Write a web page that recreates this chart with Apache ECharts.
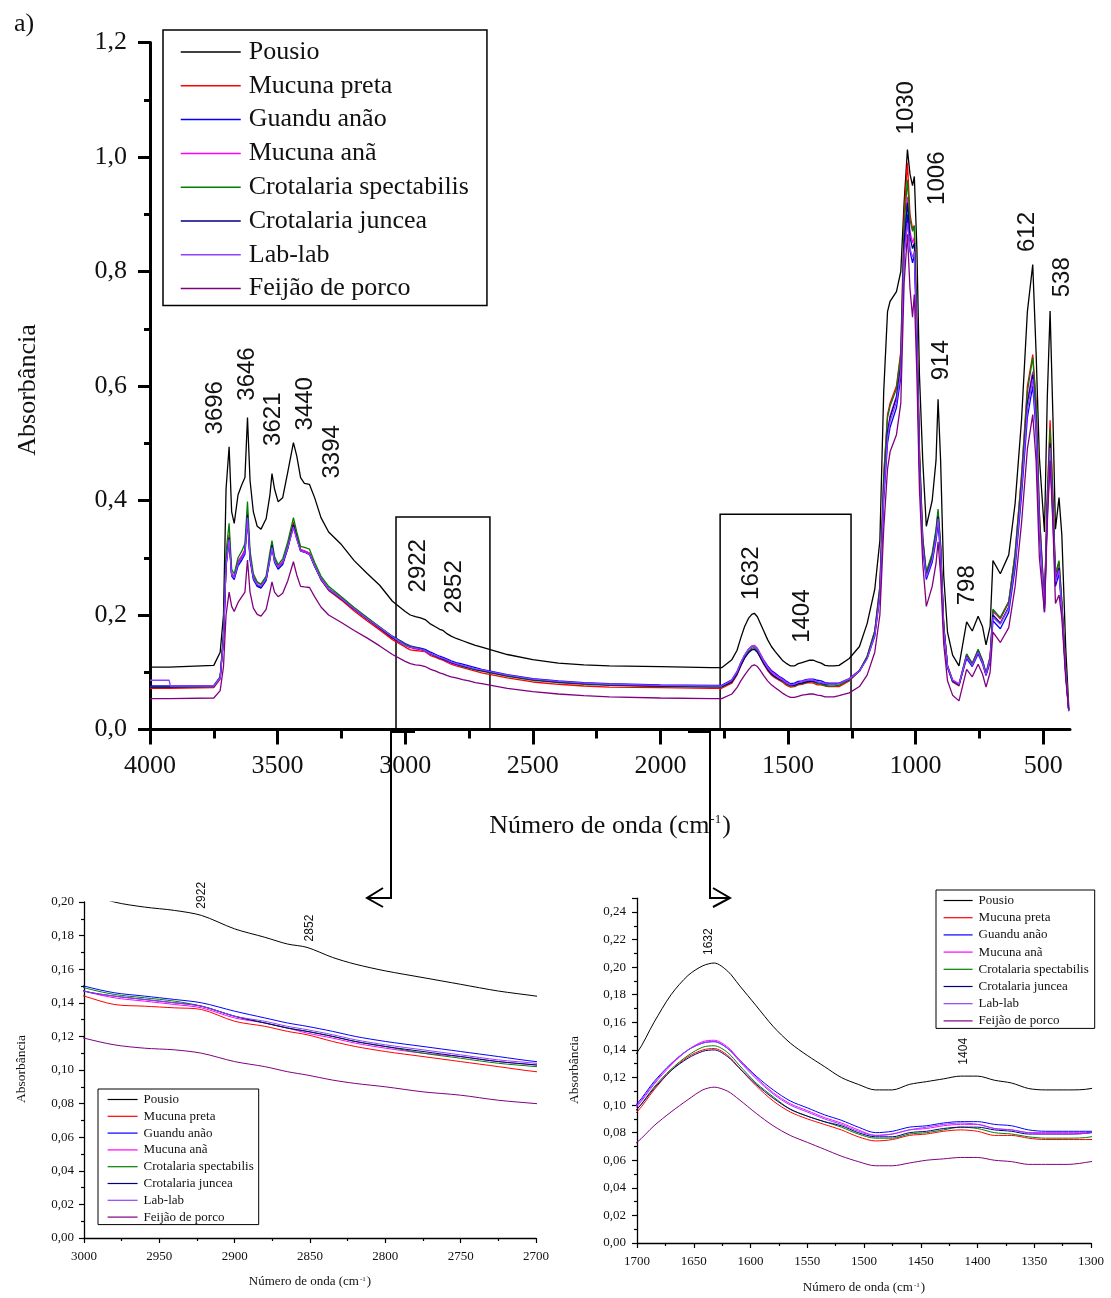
<!DOCTYPE html>
<html>
<head>
<meta charset="utf-8">
<script src="https://cdn.jsdelivr.net/npm/echarts@6/dist/echarts.min.js"></script>
<style>
  html, body { margin: 0; padding: 0; background: #fff; }
  #chart { width: 1111px; height: 1298px; }
</style>
</head>
<body>
<div id="chart"></div>
<script>
// ---------------------------------------------------------------------------
// FTIR absorbance spectra (wavenumber in cm-1, absorbance)
// ---------------------------------------------------------------------------
const wavenumber = [
  4000, 3925, 3920, 3750, 3725, 3712, 3702, 3690, 3680, 3670, 3655, 3640, 3628, 3618, 3608, 3595, 3580, 3565, 3545, 3530, 3522, 3512, 3498, 3480, 3460, 3438,
  3425, 3410, 3395, 3375, 3355, 3330, 3300, 3250, 3200, 3150, 3100, 3050,
  3000, 2980, 2960, 2940, 2922, 2900, 2880, 2865, 2852, 2835, 2820, 2800, 2775, 2750, 2725, 2700,
  2600, 2500, 2400, 2300, 2200, 2000, 1800, 1760,
  1720, 1700, 1685, 1670, 1655, 1642, 1632, 1620, 1610, 1595, 1580, 1565, 1550, 1535, 1520, 1505, 1490, 1475, 1460, 1445, 1430, 1415, 1400, 1385, 1370, 1355, 1340, 1320, 1300,
  1260, 1220, 1190, 1160, 1140, 1125, 1110, 1100, 1075, 1058, 1045, 1032, 1022, 1012, 1005, 995, 985, 972, 958, 935, 920, 912, 902, 890, 875, 855, 830, 800, 778, 755, 738, 724, 708, 697, 668, 635, 610, 585, 562, 541, 528, 515, 495, 484, 473, 462, 452, 438, 427, 412, 400
];

const pousio = [
  0.109, 0.109, 0.109, 0.112, 0.135, 0.200, 0.420, 0.494, 0.380, 0.360, 0.410, 0.428, 0.440, 0.545, 0.435, 0.380, 0.355, 0.350, 0.368, 0.410, 0.447, 0.420, 0.398, 0.405, 0.450, 0.501,
  0.478, 0.440, 0.430, 0.428, 0.405, 0.370, 0.345, 0.323, 0.295, 0.273, 0.252, 0.224,
  0.206, 0.200, 0.197, 0.195, 0.192, 0.184, 0.179, 0.175, 0.173, 0.167, 0.163, 0.159, 0.155, 0.151, 0.147, 0.144,
  0.131, 0.122, 0.116, 0.113, 0.111, 0.110, 0.108, 0.108,
  0.122, 0.138, 0.160, 0.180, 0.194, 0.201, 0.203, 0.197, 0.187, 0.172, 0.157, 0.145, 0.136, 0.128, 0.120, 0.115, 0.111, 0.111, 0.115, 0.117, 0.119, 0.121, 0.121, 0.118, 0.116, 0.112, 0.111, 0.111, 0.112,
  0.124, 0.145, 0.185, 0.245, 0.330, 0.590, 0.730, 0.748, 0.765, 0.800, 0.920, 1.013, 0.970, 0.950, 0.966, 0.840, 0.620, 0.470, 0.355, 0.400, 0.470, 0.577, 0.470, 0.270, 0.170, 0.130, 0.111, 0.188, 0.172, 0.198, 0.180, 0.148, 0.180, 0.295, 0.272, 0.305, 0.395, 0.540, 0.730, 0.812, 0.660, 0.475, 0.345, 0.580, 0.731, 0.548, 0.350, 0.405, 0.340, 0.145, 0.040
];

const mucunaPreta = [
  0.072, 0.072, 0.072, 0.073, 0.088, 0.162, 0.295, 0.340, 0.272, 0.266, 0.292, 0.302, 0.314, 0.380, 0.302, 0.266, 0.252, 0.249, 0.262, 0.302, 0.324, 0.296, 0.283, 0.292, 0.322, 0.362,
  0.338, 0.314, 0.312, 0.308, 0.286, 0.262, 0.243, 0.226, 0.207, 0.190, 0.174, 0.157,
  0.144, 0.139, 0.138, 0.137, 0.136, 0.129, 0.126, 0.123, 0.121, 0.117, 0.114, 0.111, 0.108, 0.105, 0.102, 0.099,
  0.090, 0.083, 0.079, 0.076, 0.074, 0.073, 0.072, 0.072,
  0.081, 0.095, 0.111, 0.125, 0.135, 0.140, 0.141, 0.136, 0.127, 0.114, 0.103, 0.095, 0.090, 0.086, 0.082, 0.077, 0.074, 0.075, 0.078, 0.079, 0.081, 0.082, 0.081, 0.078, 0.078, 0.076, 0.075, 0.075, 0.075,
  0.085, 0.102, 0.127, 0.172, 0.250, 0.445, 0.550, 0.570, 0.600, 0.660, 0.900, 0.990, 0.900, 0.875, 0.880, 0.715, 0.490, 0.333, 0.272, 0.305, 0.345, 0.380, 0.320, 0.182, 0.110, 0.083, 0.076, 0.130, 0.114, 0.138, 0.120, 0.097, 0.124, 0.208, 0.193, 0.222, 0.308, 0.445, 0.600, 0.655, 0.575, 0.380, 0.220, 0.410, 0.540, 0.410, 0.270, 0.292, 0.222, 0.104, 0.034
];

const guanduAnao = [
  0.076, 0.076, 0.076, 0.077, 0.092, 0.160, 0.285, 0.330, 0.268, 0.262, 0.286, 0.296, 0.306, 0.365, 0.296, 0.262, 0.250, 0.247, 0.260, 0.296, 0.318, 0.292, 0.280, 0.288, 0.316, 0.356,
  0.334, 0.312, 0.310, 0.306, 0.286, 0.264, 0.246, 0.230, 0.212, 0.195, 0.179, 0.163,
  0.150, 0.146, 0.144, 0.142, 0.140, 0.135, 0.131, 0.128, 0.126, 0.123, 0.120, 0.117, 0.114, 0.111, 0.108, 0.105,
  0.096, 0.089, 0.085, 0.082, 0.080, 0.078, 0.077, 0.077,
  0.087, 0.101, 0.117, 0.130, 0.140, 0.145, 0.146, 0.141, 0.133, 0.121, 0.111, 0.103, 0.098, 0.093, 0.089, 0.084, 0.080, 0.081, 0.084, 0.085, 0.087, 0.088, 0.088, 0.086, 0.085, 0.082, 0.081, 0.081, 0.081,
  0.089, 0.103, 0.124, 0.163, 0.232, 0.400, 0.500, 0.528, 0.562, 0.615, 0.830, 0.900, 0.835, 0.815, 0.830, 0.670, 0.455, 0.315, 0.262, 0.292, 0.330, 0.360, 0.305, 0.175, 0.108, 0.084, 0.078, 0.124, 0.110, 0.132, 0.115, 0.094, 0.118, 0.190, 0.176, 0.205, 0.282, 0.408, 0.545, 0.600, 0.520, 0.345, 0.205, 0.375, 0.480, 0.370, 0.250, 0.272, 0.208, 0.098, 0.032
];

const mucunaAna = [
  0.075, 0.075, 0.075, 0.076, 0.089, 0.158, 0.288, 0.332, 0.272, 0.268, 0.294, 0.304, 0.314, 0.368, 0.304, 0.268, 0.256, 0.253, 0.266, 0.300, 0.320, 0.296, 0.286, 0.294, 0.320, 0.352,
  0.333, 0.314, 0.312, 0.308, 0.287, 0.264, 0.245, 0.229, 0.210, 0.193, 0.177, 0.161,
  0.147, 0.143, 0.141, 0.139, 0.137, 0.131, 0.128, 0.125, 0.122, 0.119, 0.116, 0.113, 0.110, 0.108, 0.105, 0.103,
  0.094, 0.087, 0.083, 0.080, 0.078, 0.076, 0.075, 0.075,
  0.085, 0.099, 0.115, 0.129, 0.140, 0.146, 0.147, 0.142, 0.133, 0.120, 0.109, 0.101, 0.096, 0.091, 0.087, 0.082, 0.078, 0.079, 0.082, 0.083, 0.085, 0.086, 0.086, 0.083, 0.082, 0.080, 0.080, 0.080, 0.080,
  0.088, 0.103, 0.126, 0.168, 0.240, 0.420, 0.520, 0.548, 0.582, 0.640, 0.860, 0.930, 0.870, 0.850, 0.860, 0.695, 0.475, 0.328, 0.272, 0.304, 0.345, 0.378, 0.318, 0.182, 0.112, 0.087, 0.080, 0.131, 0.116, 0.139, 0.121, 0.099, 0.128, 0.205, 0.196, 0.224, 0.300, 0.430, 0.575, 0.625, 0.545, 0.362, 0.218, 0.392, 0.505, 0.390, 0.265, 0.285, 0.218, 0.102, 0.034
];

const crotalariaSpectabilis = [
  0.074, 0.074, 0.074, 0.075, 0.092, 0.170, 0.310, 0.360, 0.280, 0.272, 0.300, 0.312, 0.325, 0.398, 0.312, 0.272, 0.258, 0.254, 0.268, 0.310, 0.330, 0.302, 0.288, 0.298, 0.328, 0.370,
  0.345, 0.320, 0.318, 0.315, 0.292, 0.268, 0.250, 0.232, 0.213, 0.196, 0.179, 0.162,
  0.149, 0.145, 0.143, 0.141, 0.138, 0.132, 0.128, 0.125, 0.123, 0.120, 0.117, 0.114, 0.110, 0.107, 0.104, 0.102,
  0.093, 0.086, 0.082, 0.079, 0.077, 0.075, 0.074, 0.074,
  0.083, 0.097, 0.113, 0.126, 0.136, 0.142, 0.143, 0.138, 0.129, 0.116, 0.106, 0.097, 0.092, 0.088, 0.084, 0.079, 0.076, 0.076, 0.079, 0.080, 0.082, 0.084, 0.083, 0.080, 0.079, 0.077, 0.076, 0.076, 0.077,
  0.086, 0.103, 0.128, 0.172, 0.250, 0.440, 0.545, 0.565, 0.595, 0.655, 0.880, 0.960, 0.890, 0.870, 0.880, 0.710, 0.490, 0.335, 0.275, 0.308, 0.350, 0.385, 0.325, 0.185, 0.112, 0.085, 0.078, 0.132, 0.115, 0.140, 0.121, 0.098, 0.126, 0.210, 0.195, 0.223, 0.308, 0.440, 0.590, 0.650, 0.570, 0.375, 0.218, 0.405, 0.525, 0.405, 0.272, 0.295, 0.225, 0.105, 0.035
];

const crotalariaJuncea = [
  0.074, 0.074, 0.074, 0.075, 0.090, 0.160, 0.290, 0.335, 0.270, 0.265, 0.290, 0.300, 0.310, 0.375, 0.300, 0.265, 0.252, 0.249, 0.262, 0.300, 0.322, 0.295, 0.282, 0.290, 0.318, 0.358,
  0.335, 0.312, 0.310, 0.306, 0.285, 0.262, 0.244, 0.228, 0.210, 0.193, 0.177, 0.160,
  0.147, 0.144, 0.142, 0.140, 0.138, 0.132, 0.128, 0.125, 0.123, 0.120, 0.117, 0.114, 0.111, 0.108, 0.105, 0.103,
  0.094, 0.087, 0.083, 0.080, 0.078, 0.076, 0.075, 0.075,
  0.083, 0.097, 0.112, 0.125, 0.134, 0.139, 0.140, 0.135, 0.127, 0.115, 0.105, 0.097, 0.092, 0.088, 0.085, 0.080, 0.077, 0.077, 0.080, 0.081, 0.083, 0.084, 0.084, 0.082, 0.081, 0.079, 0.079, 0.079, 0.080,
  0.087, 0.102, 0.125, 0.168, 0.240, 0.420, 0.520, 0.545, 0.580, 0.635, 0.850, 0.920, 0.860, 0.840, 0.850, 0.690, 0.470, 0.325, 0.268, 0.300, 0.340, 0.372, 0.315, 0.180, 0.110, 0.085, 0.078, 0.128, 0.112, 0.136, 0.118, 0.096, 0.122, 0.200, 0.186, 0.214, 0.295, 0.425, 0.570, 0.620, 0.540, 0.360, 0.212, 0.390, 0.500, 0.385, 0.260, 0.282, 0.215, 0.100, 0.033
];

const labLab = [
  0.086, 0.086, 0.076, 0.076, 0.090, 0.158, 0.288, 0.332, 0.270, 0.265, 0.290, 0.300, 0.310, 0.370, 0.300, 0.265, 0.253, 0.250, 0.263, 0.298, 0.318, 0.294, 0.283, 0.291, 0.318, 0.354,
  0.333, 0.312, 0.310, 0.306, 0.286, 0.263, 0.245, 0.229, 0.211, 0.194, 0.178, 0.162,
  0.147, 0.144, 0.142, 0.140, 0.138, 0.132, 0.129, 0.126, 0.124, 0.121, 0.118, 0.115, 0.112, 0.109, 0.106, 0.104,
  0.095, 0.088, 0.084, 0.081, 0.079, 0.077, 0.076, 0.076,
  0.086, 0.100, 0.116, 0.130, 0.140, 0.145, 0.146, 0.141, 0.132, 0.119, 0.108, 0.100, 0.095, 0.090, 0.086, 0.081, 0.078, 0.079, 0.082, 0.084, 0.086, 0.087, 0.086, 0.083, 0.082, 0.080, 0.079, 0.079, 0.080,
  0.088, 0.102, 0.124, 0.165, 0.235, 0.410, 0.510, 0.538, 0.572, 0.625, 0.830, 0.885, 0.840, 0.825, 0.835, 0.680, 0.462, 0.320, 0.266, 0.297, 0.336, 0.368, 0.312, 0.178, 0.110, 0.086, 0.079, 0.127, 0.112, 0.135, 0.117, 0.096, 0.122, 0.196, 0.184, 0.212, 0.290, 0.418, 0.560, 0.612, 0.532, 0.352, 0.210, 0.382, 0.492, 0.380, 0.258, 0.278, 0.212, 0.100, 0.033
];

const feijaoDePorco = [
  0.054, 0.054, 0.054, 0.055, 0.068, 0.110, 0.200, 0.240, 0.215, 0.206, 0.222, 0.232, 0.240, 0.296, 0.240, 0.212, 0.201, 0.198, 0.210, 0.240, 0.258, 0.240, 0.232, 0.238, 0.260, 0.293,
  0.270, 0.250, 0.249, 0.248, 0.232, 0.214, 0.200, 0.187, 0.173, 0.160, 0.146, 0.131,
  0.119, 0.115, 0.113, 0.112, 0.110, 0.105, 0.102, 0.099, 0.097, 0.094, 0.092, 0.090, 0.087, 0.085, 0.082, 0.080,
  0.072, 0.066, 0.062, 0.059, 0.057, 0.055, 0.054, 0.054,
  0.062, 0.073, 0.085, 0.095, 0.104, 0.111, 0.113, 0.110, 0.104, 0.094, 0.085, 0.078, 0.073, 0.068, 0.063, 0.059, 0.056, 0.056, 0.058, 0.060, 0.061, 0.062, 0.062, 0.060, 0.059, 0.057, 0.057, 0.057, 0.059,
  0.064, 0.075, 0.095, 0.135, 0.200, 0.350, 0.455, 0.485, 0.515, 0.570, 0.780, 0.865, 0.770, 0.720, 0.760, 0.620, 0.420, 0.290, 0.215, 0.250, 0.290, 0.328, 0.270, 0.150, 0.085, 0.060, 0.050, 0.105, 0.092, 0.114, 0.097, 0.074, 0.100, 0.170, 0.152, 0.178, 0.250, 0.360, 0.490, 0.550, 0.470, 0.300, 0.205, 0.360, 0.470, 0.360, 0.220, 0.235, 0.195, 0.090, 0.035
];

const seriesNames = ['Pousio', 'Mucuna preta', 'Guandu anão', 'Mucuna anã',
  'Crotalaria spectabilis', 'Crotalaria juncea', 'Lab-lab', 'Feijão de porco'];
const seriesValues = [pousio, mucunaPreta, guanduAnao, mucunaAna,
  crotalariaSpectabilis, crotalariaJuncea, labLab, feijaoDePorco];

// tick labels of the full-range wavenumber axis
const mainMajorTicks = [4000, 3500, 3000, 2500, 2000, 1500, 1000, 500];
const mainMinorTicks = [3750, 3250, 2750, 2250, 1750, 1250, 750];

// band assignments written on the spectra: [text, wavenumber, absorbance] of the text centre
const mainBandLabels = [
  ['3696', 3745, 0.562], ['3646', 3620, 0.621], ['3621', 3518, 0.542],
  ['3440', 3393, 0.569], ['3394', 3287, 0.485], ['2922', 2950, 0.286],
  ['2852', 2809, 0.249], ['1632', 1645, 0.273], ['1404', 1445, 0.198],
  ['1030', 1038, 1.086], ['1006', 916, 0.963], ['914', 900, 0.645],
  ['798', 799, 0.252], ['612', 563, 0.869], ['538', 426, 0.790]
];
const chRegionLabels = [['2922', 2922, 0.204], ['2852', 2850, 0.1845]];
const ohRegionLabels = [['1632', 1637, 0.2185], ['1404', 1412, 0.139]];

// wavenumber windows enlarged below: [from, to, box height in absorbance]
const zoomWindows = [[3036, 2668, 0.371], [1766, 1253, 0.376]];

// ---------------------------------------------------------------------------
const SERIF = '"Liberation Serif", "Times New Roman", serif';
const SANS = '"Liberation Sans", Arial, sans-serif';
const colors = ['#000000', '#ff0000', '#0000ff', '#ff00ff', '#008000', '#000080', '#9040ff', '#800080'];

const chart = echarts.init(document.getElementById('chart'), null, { renderer: 'canvas' });

const comma = d => v => v.toFixed(d).replace('.', ',');
const plain = v => String(Math.round(v));

function valueAxis(grid, cfg) {
  return Object.assign({
    type: 'value', gridIndex: grid, splitLine: { show: false },
    axisLine: { show: true, onZero: false, lineStyle: { color: '#000', width: cfg.lineW } },
    axisTick: { show: true, length: cfg.tick, lineStyle: { color: '#000', width: cfg.tickW } },
    minorTick: { show: cfg.minor !== 0, splitNumber: 2, length: cfg.minor, lineStyle: { color: '#000', width: cfg.tickW } },
    axisLabel: { show: true, margin: cfg.margin, fontFamily: SERIF, fontSize: cfg.font, color: '#111' }
  }, cfg.extra);
}

const xAxis = [
  valueAxis(0, { lineW: 3, tick: 15, tickW: 3, minor: 0, margin: 24, font: 26,
    extra: { inverse: true, min: 395, max: 4000, position: 'bottom' } }),
  valueAxis(1, { lineW: 1.3, tick: 5, tickW: 1.2, minor: 3, margin: 12, font: 13,
    extra: { inverse: true, min: 2700, max: 3000, interval: 50, position: 'bottom' } }),
  valueAxis(2, { lineW: 1.3, tick: 5, tickW: 1.2, minor: 3, margin: 12, font: 13,
    extra: { inverse: true, min: 1300, max: 1700, interval: 50, position: 'bottom' } }),
  // secondary scale of the main plot carrying the intermediate ticks
  valueAxis(0, { lineW: 3, tick: 9, tickW: 3, minor: 0, margin: 24, font: 26,
    extra: { inverse: true, min: 395, max: 4000, position: 'bottom', offset: 0 } })
];
xAxis.forEach(a => { a.axisLabel.formatter = plain; });
xAxis[0].axisTick.customValues = mainMajorTicks;
xAxis[0].axisLabel.customValues = mainMajorTicks;
xAxis[3].axisLine.show = false;
xAxis[3].axisLabel.show = false;
xAxis[3].axisTick.customValues = mainMinorTicks;

const yAxis = [
  valueAxis(0, { lineW: 3, tick: 12, tickW: 3, minor: 6, margin: 23, font: 26,
    extra: { min: 0, max: 1.2, interval: 0.2 } }),
  valueAxis(1, { lineW: 1.3, tick: 5, tickW: 1.2, minor: 3, margin: 10, font: 13,
    extra: { min: 0, max: 0.2, interval: 0.02 } }),
  valueAxis(2, { lineW: 1.3, tick: 5, tickW: 1.2, minor: 3, margin: 11, font: 13,
    extra: { min: 0, max: 0.25, interval: 0.02 } })
];
yAxis[0].axisLabel.formatter = comma(1);
yAxis[1].axisLabel.formatter = comma(2);
yAxis[2].axisLabel.formatter = v => (Math.round(v * 100) % 2 === 0 ? comma(2)(v) : '');

const series = [];
[0, 1, 2].forEach(g => {
  seriesValues.forEach((vals, i) => {
    const s = {
      type: 'line', name: seriesNames[i], xAxisIndex: g, yAxisIndex: g,
      data: wavenumber.map((w, k) => [w, vals[k]]),
      symbol: 'none', showSymbol: false, clip: true, animation: false,
      smooth: g === 0 ? false : 0.3,
      lineStyle: { color: colors[i], width: g === 0 ? 1.3 : 1 },
      itemStyle: { color: colors[i] },
      emphasis: { disabled: true }
    };
    if (g === 0 && i === 0) {
      s.markArea = {
        silent: true,
        itemStyle: { color: 'rgba(0,0,0,0)', borderColor: '#000', borderWidth: 1.5 },
        label: { show: false },
        data: zoomWindows.map(([a, b, h]) => [{ coord: [a, 0] }, { coord: [b, h] }])
      };
    }
    series.push(s);
  });
});

function legendAt(left, top, o) {
  return {
    data: seriesNames, orient: 'vertical', left: left, top: top,
    itemWidth: o.iw, itemHeight: o.ih, itemGap: o.gap, padding: o.pad,
    borderColor: '#000', borderWidth: o.bw, backgroundColor: '#fff',
    selectedMode: false,
    itemStyle: { opacity: 0 },
    lineStyle: { width: o.lw },
    textStyle: { fontFamily: SERIF, fontSize: o.font, color: '#111', padding: [0, 0, 0, o.tp] }
  };
}

const option = {
  backgroundColor: '#fff',
  animation: false,
  grid: [
    { left: 150, top: 42.5, width: 920, height: 687 },
    { left: 84, top: 902, width: 452, height: 336 },
    { left: 637, top: 898.2, width: 454, height: 344.8 }
  ],
  xAxis: xAxis,
  yAxis: yAxis,
  legend: [
    legendAt(163, 30, { iw: 60, ih: 26, gap: 7.8, pad: [9, 18, 4, 17], bw: 1.5, font: 26, tp: 3, lw: 1.5 }),
    legendAt(98, 1089, { iw: 30, ih: 13, gap: 3.8, pad: [4, 5, 1, 9], bw: 1, font: 13, tp: 1, lw: 1.2 }),
    legendAt(936, 890, { iw: 29, ih: 13, gap: 4.2, pad: [4, 6, 1, 7], bw: 1, font: 13, tp: 1, lw: 1.2 })
  ],
  series: series
};

chart.setOption(option);

// ---------------------------------------------------------------------------
// titles, band labels and the connectors to the enlarged windows
// ---------------------------------------------------------------------------
const graphics = [];
function txt(x, y, text, font, size, rot, extra) {
  graphics.push({
    type: 'text', x: x, y: y, rotation: rot || 0, silent: true, z: 100,
    style: Object.assign({ text: text, fontFamily: font, fontSize: size, fill: '#111',
      align: 'center', verticalAlign: 'middle' }, extra || {})
  });
}
function axisTitle(x, y, size) {
  txt(x, y, '{a|Número de onda (cm}{b|-1}{a|)}', SERIF, size, 0, {
    rich: {
      a: { fontFamily: SERIF, fontSize: size, fill: '#111' },
      b: { fontFamily: SERIF, fontSize: Math.round(size * 0.5), fill: '#111', verticalAlign: 'top', padding: [0, 1, 0, 1] }
    }
  });
}

txt(24, 24, 'a)', SERIF, 26, 0);
txt(28, 390, 'Absorbância', SERIF, 26, Math.PI / 2);
axisTitle(610, 826, 26);
txt(21, 1069, 'Absorbância', SERIF, 13.5, Math.PI / 2);
axisTitle(310, 1282, 13);
txt(574, 1070, 'Absorbância', SERIF, 13.5, Math.PI / 2);
axisTitle(864, 1288, 13);

function bandLabels(list, grid, size) {
  list.forEach(([t, w, v]) => {
    const p = chart.convertToPixel({ gridIndex: grid }, [w, v]);
    txt(p[0], p[1], t, SANS, size, Math.PI / 2);
  });
}
bandLabels(mainBandLabels, 0, 24);
bandLabels(chRegionLabels, 1, 12);
bandLabels(ohRegionLabels, 2, 12);

function poly(points, w) {
  graphics.push({ type: 'polyline', silent: true, z: 100,
    shape: { points: points }, style: { stroke: '#000', lineWidth: w, fill: null } });
}
poly([[415, 732], [391, 732], [391, 898], [367, 898]], 2);
poly([[383, 888], [367, 898], [383, 907]], 2);
poly([[688, 732], [710, 732], [710, 898], [730, 898]], 2);
poly([[713, 888], [730, 898], [713, 907]], 2);

chart.setOption({ graphic: graphics });
</script>
</body>
</html>
